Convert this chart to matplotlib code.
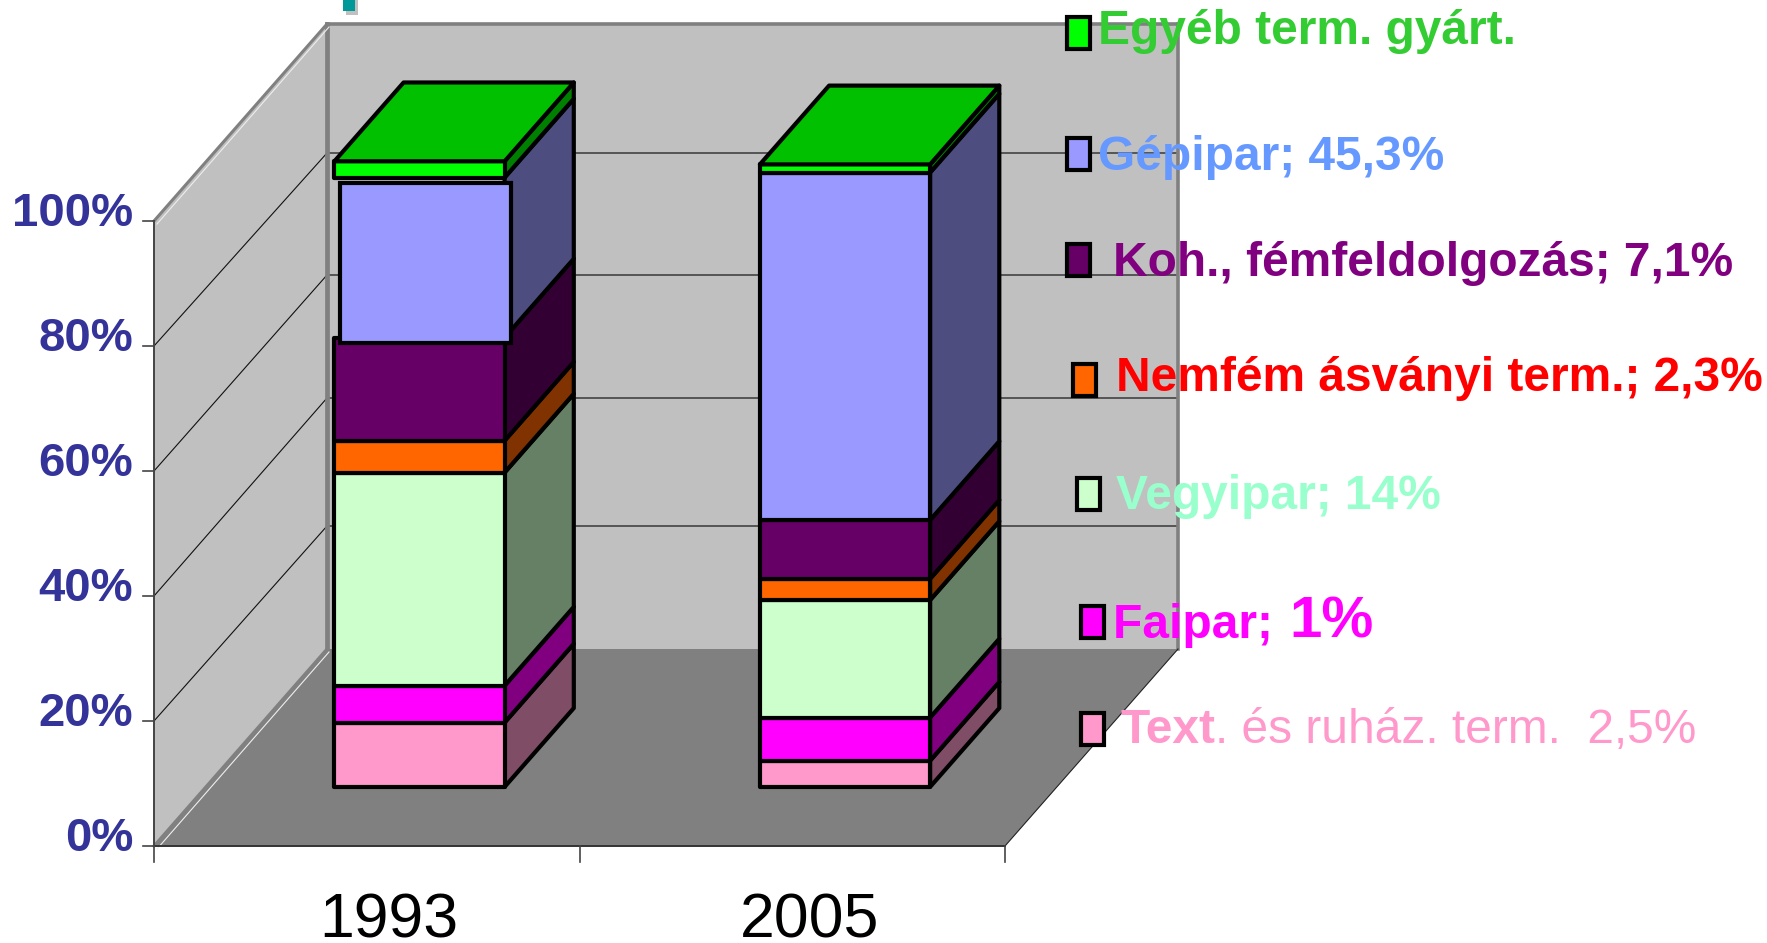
"""Stacked 3D style column chart of industry shares, 1993 and 2005."""

import matplotlib as mpl

mpl.use("Agg")
import matplotlib.pyplot as plt

plt.rcParams["font.family"] = ["Liberation Sans", "DejaVu Sans"]

years = ["1993", "2005"]
series = ["Text", "Faipar", "Vegyipar", "Nemfem", "Koh", "Gepipar", "Egyeb"]
values_1993 = [10.3, 5.9, 34.1, 5.1, 16.5, 25.6, 2.6]
values_2005 = [4.2, 6.9, 18.8, 3.4, 9.4, 55.6, 1.3]
y_ticks = [0, 20, 40, 60, 80, 100]

front_colors = ["#FF99CC", "#FF00FF", "#CCFFCC", "#FF6600", "#660066", "#9999FF", "#00FF00"]
side_colors = ["#804D66", "#800080", "#668066", "#803300", "#330033", "#4D4D80", "#008000"]
top_color = "#00C000"

# pieces of legend text: (text, size, weight), last piece may be bigger or thin
legend_labels = [
    [("Egyéb term. gyárt.", 34.5, "bold")],
    [("Gépipar; 45,3%", 34.5, "bold")],
    [("Koh., fémfeldolgozás; 7,1%", 34.5, "bold")],
    [("Nemfém ásványi term.; 2,3%", 34.5, "bold")],
    [("Vegyipar; 14%", 34.5, "bold")],
    [("Faipar; ", 34.5, "bold"), ("1%", 42, "bold")],
    [("Text", 34.5, "bold"), (". és ruház. term.  2,5%", 34.5, "normal")],
]
legend_colors = ["#33CC33", "#6699FF", "#800080", "#FF0000", "#99FFCC", "#FF00FF", "#FF99CC"]
legend_front = [6, 5, 4, 3, 2, 1, 0]
legend_box_x = [1066, 1066, 1066, 1072, 1076, 1080, 1080]
legend_box_y = [16, 137, 243, 363, 477, 605, 712]
legend_text_x = [1098, 1098, 1113, 1116, 1116, 1113, 1120]
legend_text_y = [44, 170, 276, 391, 509, 638, 743]

# the picture is laid out in pixels, the helper turns chart values into them
X0, Y0 = 154, 846
CAT_W = 425.5
PCT_H = 6.25
DEPTH_X, DEPTH_Y = 173, 197
GAP = 0.302
BAR_W = 0.4
EDGE = 3.0
# the back wall lines sit a few pixels off in the original
back_grid_shift = {20: 2, 40: -1, 60: 1, 80: 4}


def project(cat, value, depth):
    return X0 + cat * CAT_W + depth * DEPTH_X, Y0 - value * PCT_H - depth * DEPTH_Y


def face(ax, corners, color, lw=EDGE, edge="black", zorder=1):
    pts = [project(*c) for c in corners]
    ax.fill(*zip(*pts), facecolor=color, edgecolor=edge, linewidth=lw, joinstyle="round", zorder=zorder)


def draw_bar(ax, pos, values):
    left, right = pos + GAP, pos + GAP + BAR_W
    near, far = 0.3, 0.7
    bottom = 0
    nudged = None
    for i, val in enumerate(values):
        top = bottom + val
        face(ax, [(right, bottom, near), (right, bottom, far), (right, top, far), (right, top, near)], side_colors[i])
        pts = [(left, bottom, near), (right, bottom, near), (right, top, near), (left, top, near)]
        if pos == 0 and series[i] == "Gepipar":
            # this box was moved by hand in the original slide
            nudged = (pts, front_colors[i])
        else:
            face(ax, pts, front_colors[i])
        bottom = top
    face(ax, [(left, bottom, near), (right, bottom, near), (right, bottom, far), (left, bottom, far)], top_color)
    if nudged:
        xy = [project(*c) for c in nudged[0]]
        xy = [(x + 6, y + 5) for x, y in xy]
        ax.fill(*zip(*xy), facecolor=nudged[1], edgecolor="black", linewidth=EDGE, joinstyle="miter")


fig = plt.figure(figsize=(17.67, 9.43), dpi=100)
ax = fig.add_axes([0, 0, 1, 1])
ax.set_xlim(0, 1767)
ax.set_ylim(943, 0)
ax.axis("off")

n = len(years)
wall_gray = "#C0C0C0"
edge_gray = "#808080"

# walls and floor
face(ax, [(0, 0, 1), (n, 0, 1), (n, 100, 1), (0, 100, 1)], wall_gray, 0, zorder=0)
face(ax, [(0, 0, 0), (0, 0, 1), (0, 100, 1), (0, 100, 0)], wall_gray, 0, zorder=0)
face(ax, [(0, 0, 0), (n, 0, 0), (n, 0, 1), (0, 0, 1)], edge_gray, 0, zorder=0)

for v in y_ticks[1:-1]:
    p, q = project(0, v, 0), project(0, v, 1)
    r = project(n, v, 1)
    dy = back_grid_shift[v]
    ax.plot([p[0], q[0]], [p[1], q[1] + dy], color="#111111", lw=0.8, zorder=0.5)
    ax.plot([q[0], r[0]], [q[1] + dy, r[1] + dy], color="#555555", lw=1.4, zorder=0.5)

# wall borders
for a, b, w in [
    ((0, 100, 0), (0, 100, 1), 2.2),
    ((0, 100, 1), (n, 100, 1), 2.6),
    ((0, 0, 1), (0, 100, 1), 3.4),
    ((n, 0, 1), (n, 100, 1), 2.6),
    ((0, 0, 0), (0, 0, 1), 2.2),
]:
    ax.plot(*zip(project(*a), project(*b)), color=edge_gray, lw=w, solid_capstyle="projecting", zorder=0.6)
for a, b in [((0, 100, 0), (0, 100, 1)), ((0, 0, 0), (0, 0, 1))]:
    p, q = project(*a), project(*b)
    ax.plot([p[0] + 3, q[0] + 2], [p[1] + 3, q[1] + 3], color="#EEEEEE", lw=0.8, zorder=0.7)

# axis lines and ticks
ax.plot(*zip(project(0, 0, 0), project(0, 100, 0)), color="#444444", lw=1.4, zorder=0.8)
ax.plot(*zip(project(0, 0, 0), project(n, 0, 0)), color="#333333", lw=1.4, zorder=0.8)
ax.plot(*zip(project(n, 0, 0), project(n, 0, 1)), color="#222222", lw=0.8, zorder=0.8)
for v in y_ticks:
    x, y = project(0, v, 0)
    ax.plot([x - 11, x], [y, y], color="#444444", lw=1.2)
    ax.text(133, y - 12, f"{v}%", ha="right", va="center_baseline", fontsize=34,
            fontweight="bold", color="#333399")
for c in range(n + 1):
    x, y = project(c, 0, 0)
    ax.plot([x, x], [y, y + 16], color="#444444", lw=1.2)
for c, year in enumerate(years):
    x = project(c + 0.5, 0, 0)[0]
    ax.text(x + 22 - c * 5, 938, year, ha="center", va="baseline", fontsize=45, color="black")

draw_bar(ax, 0, values_1993)
draw_bar(ax, 1, values_2005)

# legend, placed by hand in the slide
fig.canvas.draw()
renderer = fig.canvas.get_renderer()
for i, pieces in enumerate(legend_labels):
    bx, by = legend_box_x[i], legend_box_y[i]
    ax.fill([bx + 1, bx + 24, bx + 24, bx + 1], [by + 1, by + 1, by + 33, by + 33],
            facecolor=front_colors[legend_front[i]], edgecolor="black", linewidth=EDGE, joinstyle="miter", zorder=3)
    x = legend_text_x[i]
    for txt, size, weight in pieces:
        t = ax.text(x, legend_text_y[i], txt, fontsize=size, fontweight=weight,
                    color=legend_colors[i], ha="left", va="baseline")
        if txt.endswith(" "):
            x += t.get_window_extent(renderer).width + 3
        else:
            x = t.get_window_extent(renderer).x1

# stray teal box at the top edge of the slide
ax.fill([346, 358, 358, 346], [0, 0, 15, 15], color="#C0C0C0", linewidth=0)
ax.fill([343, 355, 355, 343], [0, 0, 11, 11], color="#009999", linewidth=0)

plt.savefig("out.png", dpi=100)
